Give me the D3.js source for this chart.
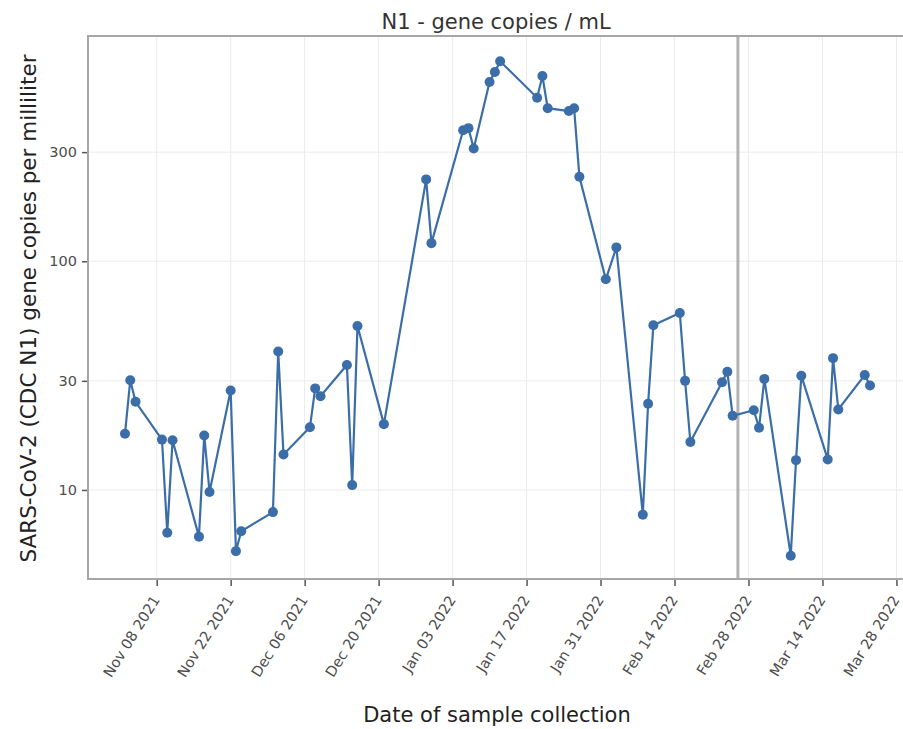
<!DOCTYPE html>
<html>
<head>
<meta charset="utf-8">
<script src="https://cdnjs.cloudflare.com/ajax/libs/d3/7.8.5/d3.min.js"></script>
<style>
  body { margin: 0; background: #fff; }
  text { font-family: "DejaVu Sans", Verdana, sans-serif; }
</style>
</head>
<body>
<div id="chart"></div>
<script>
// sample dates and N1 gene copies / mL
let sampleDates = [
  "2021-11-02", "2021-11-03", "2021-11-04", "2021-11-09", "2021-11-10", "2021-11-11",
  "2021-11-16", "2021-11-17", "2021-11-18", "2021-11-22", "2021-11-23", "2021-11-24",
  "2021-11-30", "2021-12-01", "2021-12-02", "2021-12-07", "2021-12-08", "2021-12-09",
  "2021-12-14", "2021-12-15", "2021-12-16", "2021-12-21", "2021-12-29", "2021-12-30",
  "2022-01-05", "2022-01-06", "2022-01-07", "2022-01-10", "2022-01-11", "2022-01-12",
  "2022-01-19", "2022-01-20", "2022-01-21", "2022-01-25", "2022-01-26", "2022-01-27",
  "2022-02-01", "2022-02-03", "2022-02-08", "2022-02-09", "2022-02-10", "2022-02-15",
  "2022-02-16", "2022-02-17", "2022-02-23", "2022-02-24", "2022-02-25", "2022-03-01",
  "2022-03-02", "2022-03-03", "2022-03-08", "2022-03-09", "2022-03-10", "2022-03-15",
  "2022-03-16", "2022-03-17", "2022-03-22", "2022-03-23"
];
let geneCopies = [
  17.6, 30.2, 24.3, 16.6, 6.5, 16.5,
  6.25, 17.3, 9.8, 27.2, 5.4, 6.6,
  8.0, 40.3, 14.3, 18.8, 27.8, 25.7,
  35.2, 10.5, 52.1, 19.4, 228, 120,
  374, 382, 311, 608, 672, 749,
  519, 646, 467, 454, 467, 234,
  83.4, 115, 7.8, 23.8, 52.5, 59.4,
  30.0, 16.2, 29.6, 32.9, 21.1, 22.3,
  18.7, 30.6, 5.16, 13.5, 31.6, 13.6,
  37.7, 22.5, 31.8, 28.6
];
let yTicks = [10, 30, 100, 300];
let markerDate = "2022-02-26";

let svgWidth = 903;
let svgHeight = 729;
let margin = { top: 36, right: -4, bottom: 150, left: 88 };
let width = svgWidth - margin.left - margin.right;
let height = svgHeight - margin.top - margin.bottom;

let parseDate = d3.timeParse("%Y-%m-%d");
let data = sampleDates.map((d, i) => ({ date: parseDate(d), value: geneCopies[i] }));

let svg = d3.select("#chart").append("svg")
  .attr("width", svgWidth)
  .attr("height", svgHeight);

let chartGroup = svg.append("g")
  .attr("transform", `translate(${margin.left}, ${margin.top})`);

let xScale = d3.scaleTime()
  .domain([parseDate("2021-10-26"), parseDate("2022-03-30")])
  .range([0, width]);

let yScale = d3.scaleLog()
  .domain([4.08, 966])
  .range([height, 0]);

let xTicks = d3.timeDay.range(parseDate("2021-11-08"), parseDate("2022-03-29"), 14);

// grid
chartGroup.append("g")
  .selectAll("line")
  .data(xTicks)
  .enter().append("line")
  .attr("x1", d => xScale(d)).attr("x2", d => xScale(d))
  .attr("y1", 0).attr("y2", height)
  .attr("stroke", "#ebebeb").attr("stroke-width", 1);

chartGroup.append("g")
  .selectAll("line")
  .data(yTicks)
  .enter().append("line")
  .attr("x1", 0).attr("x2", width)
  .attr("y1", d => yScale(d)).attr("y2", d => yScale(d))
  .attr("stroke", "#ebebeb").attr("stroke-width", 1);

// vertical marker
chartGroup.append("line")
  .attr("x1", xScale(parseDate(markerDate))).attr("x2", xScale(parseDate(markerDate)))
  .attr("y1", 0).attr("y2", height)
  .attr("stroke", "#b3b3b3").attr("stroke-width", 3);

// panel border
chartGroup.append("rect")
  .attr("x", 0).attr("y", 0)
  .attr("width", width).attr("height", height)
  .attr("fill", "none")
  .attr("stroke", "#a6a6a6").attr("stroke-width", 2);

// axes
let bottomAxis = d3.axisBottom(xScale)
  .tickValues(xTicks)
  .tickFormat(d3.timeFormat("%b %d %Y"))
  .tickSize(6).tickPadding(4);

let xAxis = chartGroup.append("g")
  .attr("transform", `translate(0, ${height + 1})`)
  .call(bottomAxis);
xAxis.select(".domain").remove();
xAxis.selectAll("line").attr("stroke", "#555").attr("stroke-width", 1.5);
xAxis.selectAll("text")
  .attr("fill", "#4d4d4d")
  .attr("font-size", "14.5px")
  .attr("text-anchor", "end")
  .attr("dy", "0.35em")
  .attr("transform", "translate(-1, 17) rotate(-58)")
  .attr("x", 0).attr("y", 0);

let leftAxis = d3.axisLeft(yScale)
  .tickValues(yTicks)
  .tickFormat(d3.format("d"))
  .tickSize(5).tickPadding(5);

let yAxis = chartGroup.append("g")
  .attr("transform", "translate(-1, 0)")
  .call(leftAxis);
yAxis.select(".domain").remove();
yAxis.selectAll("line").attr("stroke", "#555").attr("stroke-width", 1.5);
yAxis.selectAll("text")
  .attr("fill", "#4d4d4d")
  .attr("font-size", "14.5px");

// line + points
let line = d3.line()
  .x(d => xScale(d.date))
  .y(d => yScale(d.value));

chartGroup.append("path")
  .datum(data)
  .attr("d", line)
  .attr("fill", "none")
  .attr("stroke", "#3b6ea8")
  .attr("stroke-width", 2.2);

chartGroup.selectAll("circle")
  .data(data)
  .enter().append("circle")
  .attr("cx", d => xScale(d.date))
  .attr("cy", d => yScale(d.value))
  .attr("r", 5)
  .attr("fill", "#3b6ea8");

// titles
svg.append("text")
  .attr("x", 496).attr("y", 29)
  .attr("text-anchor", "middle")
  .attr("font-size", "21px")
  .attr("fill", "#333")
  .text("N1 - gene copies / mL");

svg.append("text")
  .attr("x", 497).attr("y", 722)
  .attr("text-anchor", "middle")
  .attr("font-size", "21px")
  .attr("fill", "#222")
  .text("Date of sample collection");

svg.append("text")
  .attr("transform", `translate(36, ${margin.top + height / 2 + 1}) rotate(-90)`)
  .attr("text-anchor", "middle")
  .attr("font-size", "21.5px")
  .attr("fill", "#222")
  .text("SARS-CoV-2 (CDC N1) gene copies per milliliter");
</script>
</body>
</html>
